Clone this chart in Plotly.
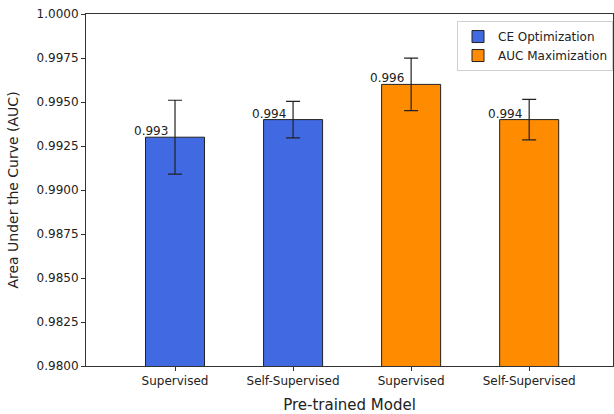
import plotly.graph_objects as go

positions = [0, 1, 2, 3]
tick_labels = ["Supervised", "Self-Supervised", "Supervised", "Self-Supervised"]
ce_x = [0, 1]
ce_auc = [0.993, 0.994]
ce_err = [0.0021, 0.00104]
auc_x = [2, 3]
auc_auc = [0.996, 0.994]
auc_err = [0.00149, 0.00115]
y_ticks = [0.98, 0.9825, 0.985, 0.9875, 0.99, 0.9925, 0.995, 0.9975, 1.0]

FONT = "DejaVu Sans"
fig = go.Figure()
fig.add_trace(go.Bar(
    x=ce_x, y=ce_auc, width=0.5, name="CE Optimization",
    marker=dict(color="#4169E1", line=dict(color="#222222", width=1)),
    error_y=dict(type="data", array=ce_err, color="#222222", thickness=1.2, width=7),
))
fig.add_trace(go.Bar(
    x=auc_x, y=auc_auc, width=0.5, name="AUC Maximization",
    marker=dict(color="#FF8C00", line=dict(color="#222222", width=1)),
    error_y=dict(type="data", array=auc_err, color="#222222", thickness=1.2, width=7),
))

for xs, ys in ((ce_x, ce_auc), (auc_x, auc_auc)):
    for x, y in zip(xs, ys):
        fig.add_annotation(x=x, y=y, text=f"{y:.3f}", showarrow=False,
                           xanchor="right", yanchor="bottom", xshift=-5, yshift=-3,
                           font=dict(family=FONT, size=12, color="#222222"))

fig.update_layout(
    width=614, height=414,
    margin=dict(l=86, r=1, t=14, b=48),
    plot_bgcolor="white", paper_bgcolor="white",
    font=dict(family=FONT, size=12, color="#222222"),
    showlegend=True,
    legend=dict(x=1.0, y=0.98, xanchor="right", yanchor="top",
                bordercolor="#d0d0d0", borderwidth=1, bgcolor="white",
                font=dict(family=FONT, size=12),
                itemwidth=30, tracegroupgap=0),
    xaxis=dict(range=[-0.754, 3.71], tickmode="array", tickvals=positions,
               ticktext=tick_labels, showgrid=False, zeroline=False,
               showline=True, linecolor="#333333", linewidth=1, mirror=True,
               ticks="outside", ticklen=4, tickcolor="#333333",
               title=dict(text="Pre-trained Model", font=dict(family=FONT, size=15), standoff=14)),
    yaxis=dict(range=[0.98, 1.0], tickmode="array",
               tickvals=y_ticks,
               ticktext=[f"{v:.4f}" for v in y_ticks],
               ticklabeloverflow="allow",
               showgrid=False, zeroline=False,
               showline=True, linecolor="#333333", linewidth=1, mirror=True,
               ticks="outside", ticklen=4, tickcolor="#333333",
               title=dict(text="Area Under the Curve (AUC)", font=dict(family=FONT, size=14), standoff=14)),
)

fig.write_html("out.html", config={"displayModeBar": False},
               post_script="document.body.style.margin='0';document.body.style.overflow='hidden';")
